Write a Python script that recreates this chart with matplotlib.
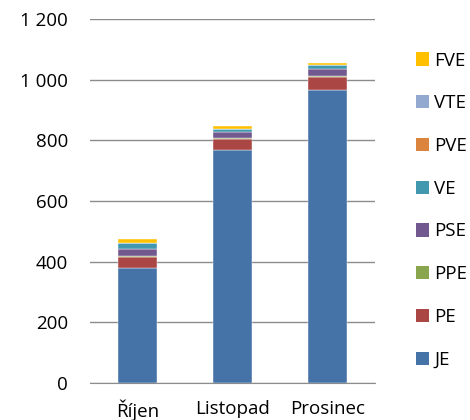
import matplotlib
matplotlib.use("Agg")
import matplotlib.pyplot as plt
from matplotlib.patches import Patch

plt.rcParams['font.family'] = ['Open Sans', 'DejaVu Sans']

months = ["Říjen", "Listopad", "Prosinec"]
series = ["JE", "PE", "PPE", "PSE", "VE", "PVE", "VTE", "FVE"]
JE = [380, 767, 967]
PE = [36, 38, 42]
PPE = [2, 2, 2]
PSE = [24, 21, 25]
VE = [20, 10, 11]
PVE = [0, 0, 0]
VTE = [1, 1, 1]
FVE = [12, 8, 6]
values = [JE, PE, PPE, PSE, VE, PVE, VTE, FVE]
colors = ["#4572A7", "#AA4643", "#89A54E", "#71588F", "#4198AF", "#DB843D", "#93A9CF", "#FFC000"]
yticks = [0, 200, 400, 600, 800, 1000, 1200]
ytick_labels = ["0", "200", "400", "600", "800", "1 000", "1 200"]

fig = plt.figure(figsize=(4.7, 4.2), dpi=100)
ax = fig.add_axes([90/470, 1-383/420, 285/470, (383-19)/420])

x = list(range(len(months)))
bottom = [0]*len(months)
for vals, c, name in zip(values, colors, series):
    ax.bar(x, vals, bottom=bottom, width=0.41, color=c, edgecolor='white', linewidth=0.3, zorder=3, label=name)
    bottom = [b+v for b, v in zip(bottom, vals)]

ax.set_xlim(-0.5, 2.5)
ax.set_ylim(0, 1200)
ax.set_yticks(yticks)
ax.set_yticklabels(ytick_labels, fontsize=13.5)
ax.set_xticks(x)
ax.set_xticklabels(months, fontsize=13.5)
ax.grid(axis='y', color='#8C8C8C', linewidth=1, zorder=0)
for s in ['top', 'right', 'left']:
    ax.spines[s].set_visible(False)
ax.spines['bottom'].set_color('#8C8C8C')
ax.tick_params(axis='y', length=0, pad=16)
ax.tick_params(axis='x', length=0, pad=12)

handles = [Patch(facecolor=c, edgecolor='none', label=n) for c, n in zip(colors, series)][::-1]
fig.legend(handles=handles, loc='upper left', bbox_to_anchor=(408/470, 1-44/420), frameon=False,
           fontsize=13.5, handlelength=0.7, handleheight=0.7, handletextpad=0.3, labelspacing=1.32,
           borderaxespad=0)

fig.savefig("out.png", dpi=100)
